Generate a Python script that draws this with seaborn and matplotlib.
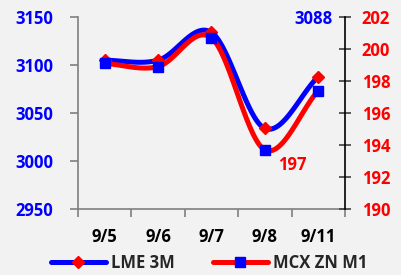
import numpy as np
import pandas as pd
import matplotlib
matplotlib.use('Agg')
import matplotlib.pyplot as plt
import seaborn as sns

dates = ['9/5', '9/6', '9/7', '9/8', '9/11']
lme_3m = [3105, 3105, 3134, 3034, 3088]
mcx_zn = [199.1, 198.9, 200.7, 193.7, 197.4]

BLUE = '#0000ff'
RED = '#ff0000'
BG = '#f2f2f2'

sns.set_theme(style='white')
plt.rcParams['font.family'] = ['Open Sans', 'DejaVu Sans']
plt.rcParams['font.weight'] = 'bold'


def smooth(y, n=30):
    """Catmull-Rom style smoothing through the points (like Excel smoothed lines)."""
    y = np.asarray(y, dtype=float)
    m = len(y)
    tang = np.zeros(m)
    tang[1:-1] = (y[2:] - y[:-2]) / 2
    tang[0] = y[1] - y[0]
    tang[-1] = y[-1] - y[-2]
    xs, ys = [], []
    for i in range(m - 1):
        t = np.linspace(0, 1, n, endpoint=(i == m - 2))
        h00 = 2 * t**3 - 3 * t**2 + 1
        h10 = t**3 - 2 * t**2 + t
        h01 = -2 * t**3 + 3 * t**2
        h11 = t**3 - t**2
        xs.append(i + t)
        ys.append(h00 * y[i] + h10 * tang[i] + h01 * y[i + 1] + h11 * tang[i + 1])
    return np.concatenate(xs), np.concatenate(ys)


fig = plt.figure(figsize=(4.02, 2.75), dpi=100, facecolor=BG)
ax = fig.add_axes([0.194, 0.24, 0.664, 0.698], facecolor=BG)
ax2 = ax.twinx()

x = np.arange(len(dates))

# LME 3M: blue smoothed line, red diamond markers (left axis)
sx, sy = smooth(lme_3m)
sns.lineplot(x=sx, y=sy, ax=ax, color=BLUE, lw=3.6, sort=False, zorder=2)
ax.plot(x, lme_3m, ls='none', marker='D', ms=6, color=RED, zorder=3)

# MCX ZN M1: red smoothed line, blue square markers (right axis)
sx, sy = smooth(mcx_zn)
sns.lineplot(x=sx, y=sy, ax=ax2, color=RED, lw=3.6, sort=False, zorder=2)
ax2.plot(x, mcx_zn, ls='none', marker='s', ms=6.5, color=BLUE, zorder=3)

ax.set_xlim(-0.5, len(dates) - 0.5)
ax.set_ylim(2950, 3150)
ax.set_yticks([2950, 3000, 3050, 3100, 3150])
ax2.set_ylim(190, 202)
ax2.set_yticks(range(190, 203, 2))

FS = 12

ax.set_xticks(x)
ax.set_xticklabels(dates)
ax.set_xticks(np.arange(-0.5, len(dates), 1), minor=True)
ax.tick_params(axis='x', which='major', length=0, pad=14, labelsize=FS, labelcolor='black')
ax.tick_params(axis='x', which='minor', length=6, width=1.2, color='#7f7f7f', direction='out', bottom=True)
ax.tick_params(axis='y', length=6, width=1.2, color='#7f7f7f', direction='out', left=True,
               labelsize=FS, labelcolor=BLUE, pad=12)
ax2.tick_params(axis='y', length=8, width=1.2, color='#404040', direction='inout', right=True,
                labelsize=FS, labelcolor=RED, pad=8)

for lbl in ax.get_xticklabels() + ax.get_yticklabels() + ax2.get_yticklabels():
    lbl.set_fontweight('bold')

for a in (ax, ax2):
    a.spines['top'].set_visible(False)
    a.set_xlabel('')
    a.set_ylabel('')
ax.spines['left'].set_color('#7f7f7f')
ax.spines['left'].set_linewidth(1.2)
ax.spines['bottom'].set_color('#7f7f7f')
ax.spines['bottom'].set_linewidth(1.2)
ax.spines['right'].set_visible(False)
ax2.spines['left'].set_visible(False)
ax2.spines['bottom'].set_visible(False)
ax2.spines['right'].set_color('black')
ax2.spines['right'].set_linewidth(1.2)

# data labels
ax.annotate(f'{lme_3m[-1]}', xy=(x[-1], lme_3m[-1]), xytext=(14, 58), textcoords='offset pixels',
            ha='right', va='center', color=BLUE, fontsize=FS, fontweight='bold')
ax2.annotate(f'{round(mcx_zn[-1]):d}', xy=(x[3], mcx_zn[3]), xytext=(27, -15), textcoords='offset pixels',
             ha='center', va='center', color=RED, fontsize=FS, fontweight='bold')

# legend
h1 = plt.Line2D([], [], color=BLUE, lw=3.6, marker='D', ms=6.5, mfc=RED, mec=RED)
h2 = plt.Line2D([], [], color=RED, lw=3.6, marker='s', ms=7, mfc=BLUE, mec=BLUE)
fig.legend([h1, h2], ['LME 3M', 'MCX ZN M1'], loc='center', bbox_to_anchor=(0.52, 0.045), ncol=2,
           frameon=False, handlelength=3.3, numpoints=1, columnspacing=2.3, handletextpad=0.3,
           prop={'weight': 'bold', 'size': 12})

fig.savefig('out.png', dpi=100, facecolor=BG)
